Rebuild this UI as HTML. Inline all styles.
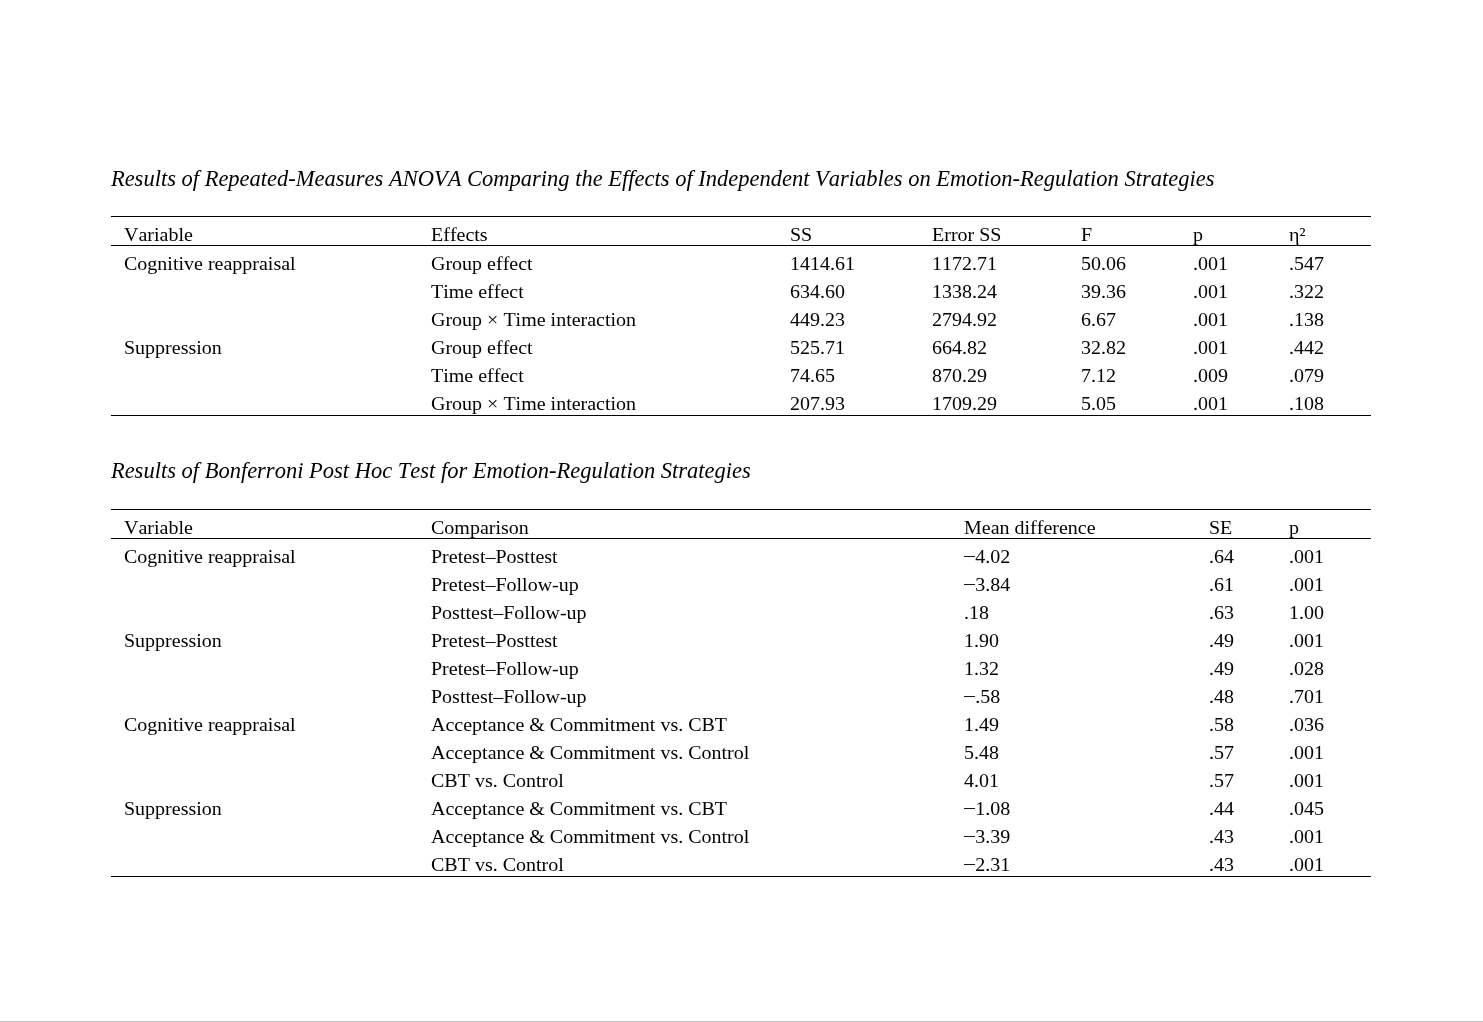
<!DOCTYPE html>
<html lang="en">
<head>
<meta charset="utf-8">
<title>Results tables</title>
<style>
html,body{margin:0;padding:0;background:#fff;}
body{width:1483px;height:1022px;position:relative;overflow:hidden;font-family:"Liberation Serif",serif;color:#000;font-kerning:none;font-variant-ligatures:none;}
.t{position:absolute;white-space:nowrap;font-size:20px;line-height:28px;height:28px;transform:scaleY(0.94);transform-origin:0 21px;}
.ttl{position:absolute;white-space:nowrap;font-size:22.5px;line-height:28px;height:28px;font-style:italic;left:110.9px;}
.r{position:absolute;left:111px;width:1260px;height:1px;background:#000;}
.m{display:inline-block;transform:scaleX(1.19);transform-origin:60% 50%;}
.bar{position:absolute;left:0;top:1021px;width:1483px;height:1px;background:#c6c4c2;}
</style>
</head>
<body>
<div class="ttl" style="top:164.5px">Results of Repeated-Measures ANOVA Comparing the Effects of Independent Variables on Emotion-Regulation Strategies</div>
<div class="r" style="top:216px"></div>
<div class="t" style="left:124px;top:220px">Variable</div>
<div class="t" style="left:431px;top:220px">Effects</div>
<div class="t" style="left:790px;top:220px">SS</div>
<div class="t" style="left:932px;top:220px">Error SS</div>
<div class="t" style="left:1081px;top:220px">F</div>
<div class="t" style="left:1193px;top:220px">p</div>
<div class="t" style="left:1289px;top:220px">η²</div>
<div class="r" style="top:245px"></div>
<div class="t" style="left:124px;top:249px">Cognitive reappraisal</div>
<div class="t" style="left:431px;top:249px">Group effect</div>
<div class="t" style="left:790px;top:249px">1414.61</div>
<div class="t" style="left:932px;top:249px">1172.71</div>
<div class="t" style="left:1081px;top:249px">50.06</div>
<div class="t" style="left:1193px;top:249px">.001</div>
<div class="t" style="left:1289px;top:249px">.547</div>
<div class="t" style="left:431px;top:277px">Time effect</div>
<div class="t" style="left:790px;top:277px">634.60</div>
<div class="t" style="left:932px;top:277px">1338.24</div>
<div class="t" style="left:1081px;top:277px">39.36</div>
<div class="t" style="left:1193px;top:277px">.001</div>
<div class="t" style="left:1289px;top:277px">.322</div>
<div class="t" style="left:431px;top:305px">Group × Time interaction</div>
<div class="t" style="left:790px;top:305px">449.23</div>
<div class="t" style="left:932px;top:305px">2794.92</div>
<div class="t" style="left:1081px;top:305px">6.67</div>
<div class="t" style="left:1193px;top:305px">.001</div>
<div class="t" style="left:1289px;top:305px">.138</div>
<div class="t" style="left:124px;top:333px">Suppression</div>
<div class="t" style="left:431px;top:333px">Group effect</div>
<div class="t" style="left:790px;top:333px">525.71</div>
<div class="t" style="left:932px;top:333px">664.82</div>
<div class="t" style="left:1081px;top:333px">32.82</div>
<div class="t" style="left:1193px;top:333px">.001</div>
<div class="t" style="left:1289px;top:333px">.442</div>
<div class="t" style="left:431px;top:361px">Time effect</div>
<div class="t" style="left:790px;top:361px">74.65</div>
<div class="t" style="left:932px;top:361px">870.29</div>
<div class="t" style="left:1081px;top:361px">7.12</div>
<div class="t" style="left:1193px;top:361px">.009</div>
<div class="t" style="left:1289px;top:361px">.079</div>
<div class="t" style="left:431px;top:389px">Group × Time interaction</div>
<div class="t" style="left:790px;top:389px">207.93</div>
<div class="t" style="left:932px;top:389px">1709.29</div>
<div class="t" style="left:1081px;top:389px">5.05</div>
<div class="t" style="left:1193px;top:389px">.001</div>
<div class="t" style="left:1289px;top:389px">.108</div>
<div class="r" style="top:415px"></div>
<div class="ttl" style="top:456.5px">Results of Bonferroni Post Hoc Test for Emotion-Regulation Strategies</div>
<div class="r" style="top:509px"></div>
<div class="t" style="left:124px;top:513px">Variable</div>
<div class="t" style="left:431px;top:513px">Comparison</div>
<div class="t" style="left:964px;top:513px">Mean difference</div>
<div class="t" style="left:1209px;top:513px">SE</div>
<div class="t" style="left:1289px;top:513px">p</div>
<div class="r" style="top:538px"></div>
<div class="t" style="left:124px;top:542px">Cognitive reappraisal</div>
<div class="t" style="left:431px;top:542px">Pretest–Posttest</div>
<div class="t" style="left:964px;top:542px"><span class="m">−</span>4.02</div>
<div class="t" style="left:1209px;top:542px">.64</div>
<div class="t" style="left:1289px;top:542px">.001</div>
<div class="t" style="left:431px;top:570px">Pretest–Follow-up</div>
<div class="t" style="left:964px;top:570px"><span class="m">−</span>3.84</div>
<div class="t" style="left:1209px;top:570px">.61</div>
<div class="t" style="left:1289px;top:570px">.001</div>
<div class="t" style="left:431px;top:598px">Posttest–Follow-up</div>
<div class="t" style="left:964px;top:598px">.18</div>
<div class="t" style="left:1209px;top:598px">.63</div>
<div class="t" style="left:1289px;top:598px">1.00</div>
<div class="t" style="left:124px;top:626px">Suppression</div>
<div class="t" style="left:431px;top:626px">Pretest–Posttest</div>
<div class="t" style="left:964px;top:626px">1.90</div>
<div class="t" style="left:1209px;top:626px">.49</div>
<div class="t" style="left:1289px;top:626px">.001</div>
<div class="t" style="left:431px;top:654px">Pretest–Follow-up</div>
<div class="t" style="left:964px;top:654px">1.32</div>
<div class="t" style="left:1209px;top:654px">.49</div>
<div class="t" style="left:1289px;top:654px">.028</div>
<div class="t" style="left:431px;top:682px">Posttest–Follow-up</div>
<div class="t" style="left:964px;top:682px"><span class="m">−</span>.58</div>
<div class="t" style="left:1209px;top:682px">.48</div>
<div class="t" style="left:1289px;top:682px">.701</div>
<div class="t" style="left:124px;top:710px">Cognitive reappraisal</div>
<div class="t" style="left:431px;top:710px">Acceptance &amp; Commitment vs. CBT</div>
<div class="t" style="left:964px;top:710px">1.49</div>
<div class="t" style="left:1209px;top:710px">.58</div>
<div class="t" style="left:1289px;top:710px">.036</div>
<div class="t" style="left:431px;top:738px">Acceptance &amp; Commitment vs. Control</div>
<div class="t" style="left:964px;top:738px">5.48</div>
<div class="t" style="left:1209px;top:738px">.57</div>
<div class="t" style="left:1289px;top:738px">.001</div>
<div class="t" style="left:431px;top:766px">CBT vs. Control</div>
<div class="t" style="left:964px;top:766px">4.01</div>
<div class="t" style="left:1209px;top:766px">.57</div>
<div class="t" style="left:1289px;top:766px">.001</div>
<div class="t" style="left:124px;top:794px">Suppression</div>
<div class="t" style="left:431px;top:794px">Acceptance &amp; Commitment vs. CBT</div>
<div class="t" style="left:964px;top:794px"><span class="m">−</span>1.08</div>
<div class="t" style="left:1209px;top:794px">.44</div>
<div class="t" style="left:1289px;top:794px">.045</div>
<div class="t" style="left:431px;top:822px">Acceptance &amp; Commitment vs. Control</div>
<div class="t" style="left:964px;top:822px"><span class="m">−</span>3.39</div>
<div class="t" style="left:1209px;top:822px">.43</div>
<div class="t" style="left:1289px;top:822px">.001</div>
<div class="t" style="left:431px;top:850px">CBT vs. Control</div>
<div class="t" style="left:964px;top:850px"><span class="m">−</span>2.31</div>
<div class="t" style="left:1209px;top:850px">.43</div>
<div class="t" style="left:1289px;top:850px">.001</div>
<div class="r" style="top:876px"></div>
<div class="bar"></div>
</body>
</html>
